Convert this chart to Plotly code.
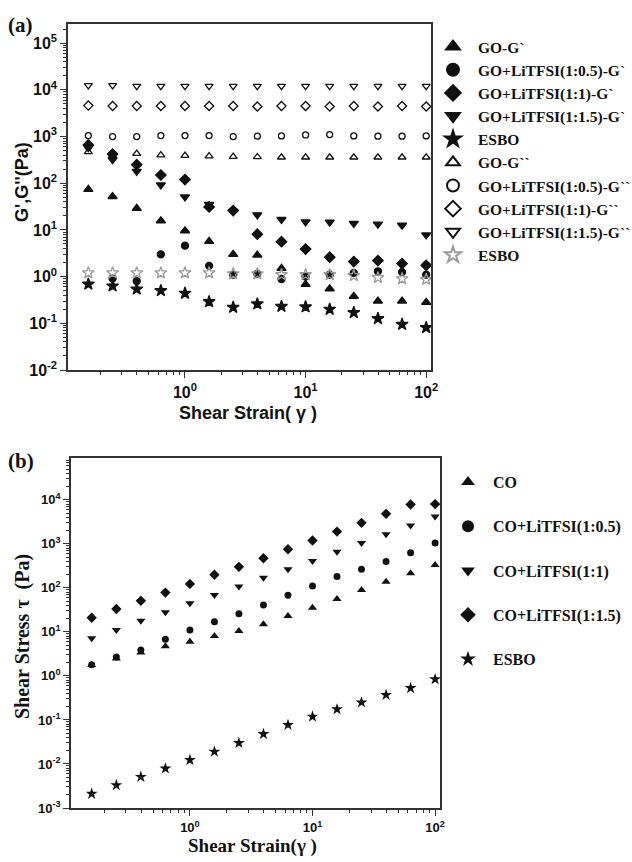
import plotly.graph_objects as go

# ---------------- data ----------------
strain = [0.158, 0.251, 0.398, 0.631, 1.0, 1.585, 2.51, 3.98, 6.31, 10.0, 15.85, 25.1, 39.8, 63.1, 100.0]

# panel (a): G' (filled) and G'' (open)
go_g1 = [74, 52, 29, 15.7, 9.6, 5.7, 3.0, 2.9, 1.5, 0.68, 0.55, 0.38, 0.30, 0.30, 0.28]
go05_g1 = [620, 0.91, 0.80, 3.0, 4.6, 1.7, 1.1, 1.15, 0.89, 1.0, 1.1, 1.2, 1.3, 1.25, 1.1]
go1_g1 = [660, 420, 250, 150, 120, 31, 26, 8.1, 5.6, 3.9, 2.6, 2.1, 2.2, 1.9, 1.75]
go15_g1 = [580, 320, 180, 92, 51, 35, 25, 21, 16.7, 14.8, 14.7, 13.8, 13.3, 12.6, 7.8]
esbo_g1 = [0.69, 0.63, 0.54, 0.50, 0.44, 0.29, 0.22, 0.26, 0.23, 0.225, 0.20, 0.17, 0.126, 0.095, 0.081]
go_g2 = [470, 415, 430, 400, 390, 380, 370, 365, 360, 360, 360, 360, 360, 360, 360]
go05_g2 = [1050, 1000, 1000, 1050, 1050, 1050, 1000, 1020, 1030, 1080, 1100, 1030, 1020, 1020, 1030]
go1_g2 = [4600, 4500, 4500, 4500, 4500, 4500, 4500, 4400, 4500, 4500, 4400, 4500, 4400, 4500, 4400]
go15_g2 = [12500, 12500, 12000, 12000, 12000, 12000, 12000, 12000, 12000, 12000, 12000, 12000, 12000, 12000, 12000]
esbo_g2 = [1.2, 1.2, 1.2, 1.2, 1.2, 1.2, 1.15, 1.15, 1.1, 1.1, 1.1, 1.05, 0.95, 0.9, 0.87]

# panel (b): shear stress
co = [1.78, 2.5, 3.4, 4.7, 6.0, 8.1, 10.5, 15, 23, 35.5, 56, 89, 138, 215, 330]
co05 = [1.8, 2.7, 3.9, 6.8, 11, 17, 26, 41, 68, 111, 182, 265, 395, 630, 1040]
co1 = [7.2, 11.1, 17.8, 28, 45, 69, 108, 170, 265, 410, 660, 1040, 1650, 2600, 4200]
co15 = [21, 33, 51, 78, 123, 198, 300, 470, 755, 1190, 1900, 3000, 4800, 7800, 8000]
esbo_b = [0.0021, 0.0033, 0.0051, 0.0079, 0.0123, 0.019, 0.030, 0.048, 0.077, 0.119, 0.175, 0.25, 0.37, 0.53, 0.84]

names_a = ["GO-G`", "GO+LiTFSI(1:0.5)-G`", "GO+LiTFSI(1:1)-G`", "GO+LiTFSI(1:1.5)-G`", "ESBO",
           "GO-G``", "GO+LiTFSI(1:0.5)-G``", "GO+LiTFSI(1:1)-G``", "GO+LiTFSI(1:1.5)-G``", "ESBO"]
names_b = ["CO", "CO+LiTFSI(1:0.5)", "CO+LiTFSI(1:1)", "CO+LiTFSI(1:1.5)", "ESBO"]

x_ticks = [1, 10, 100]
x_tick_text = ["10<sup>0</sup>", "10<sup>1</sup>", "10<sup>2</sup>"]
ya_ticks = [1e-2, 1e-1, 1, 1e1, 1e2, 1e3, 1e4, 1e5]
ya_tick_text = ["10<sup>-2</sup>", "10<sup>-1</sup>", "10<sup>0</sup>", "10<sup>1</sup>",
                "10<sup>2</sup>", "10<sup>3</sup>", "10<sup>4</sup>", "10<sup>5</sup>"]
yb_ticks = [1e-3, 1e-2, 1e-1, 1, 1e1, 1e2, 1e3, 1e4]
yb_tick_text = ["10<sup>-3</sup>", "10<sup>-2</sup>", "10<sup>-1</sup>", "10<sup>0</sup>",
                "10<sup>1</sup>", "10<sup>2</sup>", "10<sup>3</sup>", "10<sup>4</sup>"]

# ---------------- figure ----------------
W, H = 632, 862
SANS = "Liberation Sans, Arial, sans-serif"
SERIF = "Liberation Serif, Times New Roman, serif"
INK = "#111111"

fig = go.Figure()

series_a = [go_g1, go05_g1, go1_g1, go15_g1, esbo_g1, go_g2, go05_g2, go1_g2, go15_g2, esbo_g2]
symbols_a = ["triangle-up", "circle", "diamond", "triangle-down", "star",
             "triangle-up-open", "circle-open", "diamond-open", "triangle-down-open", "star-open"]
sizes_a = [8, 7, 8, 8, 9, 7, 6, 7, 7, 9]
colors_a = [INK] * 9 + ["#9a9a9a"]
for i, (ys, sym, sz, col, nm) in enumerate(zip(series_a, symbols_a, sizes_a, colors_a, names_a)):
    fig.add_trace(go.Scatter(
        x=strain, y=ys, mode="markers", name=nm, legend="legend", legendgroup=f"a{i}",
        marker=dict(symbol=sym, size=sz, color=col, line=dict(width=1.3, color=col)),
        xaxis="x", yaxis="y"))

series_b = [co, co05, co1, co15, esbo_b]
symbols_b = ["triangle-up", "circle", "triangle-down", "diamond", "star"]
sizes_b = [8, 7, 8, 8, 9]
for i, (ys, sym, sz, nm) in enumerate(zip(series_b, symbols_b, sizes_b, names_b)):
    fig.add_trace(go.Scatter(
        x=strain, y=ys, mode="markers", name=nm, legend="legend2", legendgroup=f"b{i}",
        marker=dict(symbol=sym, size=sz, color=INK, line=dict(width=0)),
        xaxis="x2", yaxis="y2"))


def px_x(p):
    return p / W


def px_y(p):
    return 1 - p / H


minor_vals = [m * 10 ** k for k in range(-4, 6) for m in range(2, 10)]


def axis_common(tickfont):
    return dict(
        type="log", showline=True, linewidth=1.5, linecolor="#333333", mirror=True,
        ticks="outside", ticklen=6, tickwidth=1.3, tickcolor="#333333",
        showgrid=False, zeroline=False, tickfont=tickfont, tickmode="array",
        minor=dict(tickmode="array", tickvals=minor_vals, ticks="outside", ticklen=3,
                   tickwidth=1, tickcolor="#333333", showgrid=False),
    )


fa = dict(family=SANS, size=16, color=INK, weight="bold")
fb = dict(family=SANS, size=13, color=INK, weight="bold")

fig.update_layout(
    width=W, height=H, margin=dict(l=0, r=0, t=0, b=0, autoexpand=False),
    paper_bgcolor="white", plot_bgcolor="white", showlegend=True,
    xaxis=dict(axis_common(fa), domain=[px_x(68), px_x(431)], range=[-0.97, 2.04],
               tickvals=x_ticks, ticktext=x_tick_text, anchor="y", ticklabelstandoff=1),
    yaxis=dict(axis_common(fa), domain=[px_y(370), px_y(24)], range=[-2, 5.41],
               tickvals=ya_ticks, ticktext=ya_tick_text, anchor="x"),
    xaxis2=dict(axis_common(fb), domain=[px_x(71), px_x(440)], range=[-0.97, 2.04],
                tickvals=x_ticks, ticktext=x_tick_text, anchor="y2", ticklabelstandoff=1),
    yaxis2=dict(axis_common(fb), domain=[px_y(808), px_y(458)], range=[-3, 4.95],
                tickvals=yb_ticks, ticktext=yb_tick_text, anchor="x2"),
    legend=dict(x=px_x(428), y=px_y(30), xanchor="left", yanchor="top",
                font=dict(family=SERIF, size=15.5, color=INK, weight="bold"),
                traceorder="grouped", tracegroupgap=0, itemsizing="constant", itemwidth=40,
                bgcolor="rgba(0,0,0,0)", borderwidth=0),
    legend2=dict(x=px_x(443), y=px_y(465), xanchor="left", yanchor="top",
                 font=dict(family=SERIF, size=16, color=INK, weight="bold"),
                 traceorder="grouped", tracegroupgap=20.5, itemsizing="constant", itemwidth=40,
                 bgcolor="rgba(0,0,0,0)", borderwidth=0),
    annotations=[
        dict(text="(a)", x=px_x(6), y=px_y(25), xref="paper", yref="paper", xanchor="left",
             yanchor="middle", showarrow=False,
             font=dict(family=SERIF, size=21, color=INK, weight="bold")),
        dict(text="(b)", x=px_x(6), y=px_y(461), xref="paper", yref="paper", xanchor="left",
             yanchor="middle", showarrow=False,
             font=dict(family=SERIF, size=21, color=INK, weight="bold")),
        dict(text="Shear Strain( γ )", x=px_x(248), y=px_y(413), xref="paper", yref="paper",
             xanchor="center", yanchor="middle", showarrow=False,
             font=dict(family=SANS, size=18, color=INK, weight="bold")),
        dict(text="G',G''(Pa)", x=px_x(22), y=px_y(182), xref="paper", yref="paper",
             xanchor="center", yanchor="middle", showarrow=False, textangle=-90,
             font=dict(family=SANS, size=18, color=INK, weight="bold")),
        dict(text="Shear Strain(γ )", x=px_x(252), y=px_y(846), xref="paper", yref="paper",
             xanchor="center", yanchor="middle", showarrow=False,
             font=dict(family=SERIF, size=19, color=INK, weight="bold")),
        dict(text="Shear Stress τ  (Pa)", x=px_x(22), y=px_y(637), xref="paper", yref="paper",
             xanchor="center", yanchor="middle", showarrow=False, textangle=-90,
             font=dict(family=SERIF, size=20, color=INK, weight="bold")),
    ],
)

fig.write_html("out.html")
